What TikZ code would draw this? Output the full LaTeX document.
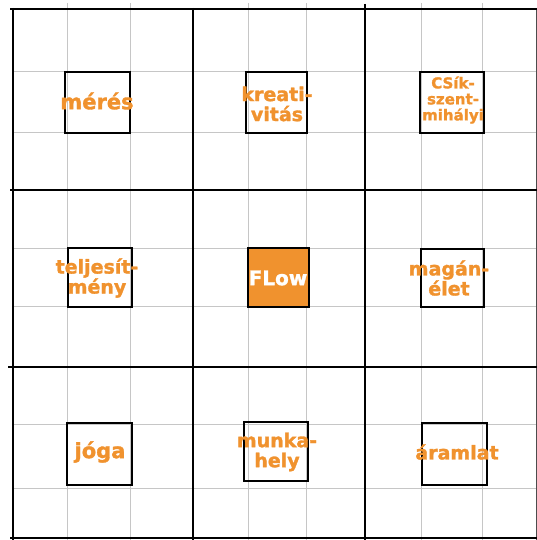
\documentclass[tikz,border=0pt]{standalone}
\usepackage{fontspec}
\setmainfont{DejaVu Sans}[BoldFeatures={FakeBold=1.6}]
\definecolor{floworange}{RGB}{240,146,46}

\begin{document}
\begin{tikzpicture}[x=1pt,y=-1pt,
    thinline/.style={gray!45,line width=1pt},
    thickline/.style={black,line width=2.8pt},
    cellbox/.style={draw=black,line width=1.8pt},
    word/.style={text=floworange,font=\bfseries\fontsize{19}{20}\selectfont,align=center,inner sep=0pt}]

    \useasboundingbox (0,0) rectangle (537,540);

    % Thin grid lines
    \draw[thinline] (67,3) -- (67,540);
    \draw[thinline] (130,3) -- (130,540);
    \draw[thinline] (248,3) -- (248,540);
    \draw[thinline] (306,3) -- (306,540);
    \draw[thinline] (421,3) -- (421,540);
    \draw[thinline] (482,3) -- (482,540);
    \draw[thinline] (12,72) -- (537,72);
    \draw[thinline] (12,133) -- (537,133);
    \draw[thinline] (12,248) -- (537,248);
    \draw[thinline] (12,306) -- (537,306);
    \draw[thinline] (12,424) -- (537,424);
    \draw[thinline] (12,488) -- (537,488);
    \draw[black!70,line width=1pt] (536,9) -- (536,540);

    % Thick block lines
    \draw[thickline] (13,8) -- (13,540);
    \draw[thickline] (193,8) -- (193,540);
    \draw[thickline] (365,4) -- (365,540);
    \draw[thickline] (10,9) -- (537,9);
    \draw[thickline] (10,190) -- (537,190);
    \draw[thickline] (8,367) -- (537,367);
    \draw[thickline] (10,538) -- (537,538);

    % Boxes round the centre cells
    \draw[cellbox] (65,72) rectangle (130,133);
    \draw[cellbox] (246,72) rectangle (307,133);
    \draw[cellbox] (420,72) rectangle (484,133);
    \draw[cellbox] (68,248) rectangle (132,307);
    \draw[cellbox,fill=floworange] (248,248) rectangle (309,307);
    \draw[cellbox] (421,249) rectangle (484,307);
    \draw[cellbox] (67,423) rectangle (132,485);
    \draw[cellbox] (244,422) rectangle (308,481);
    \draw[cellbox] (422,423) rectangle (487,485);

    % Words
    \node[word,font=\bfseries\fontsize{21}{22}\selectfont] (meres) at (97,101) {mérés};
    \node[word] (kreativitas) at (277,104) {kreati-\\vitás};
    \node[word,font=\bfseries\fontsize{15}{16}\selectfont] (csikszentmihalyi) at (453,100) {CSík-\\szent-\\mihályi};
    \node[word] (teljesitmeny) at (97,278) {teljesít-\\mény};
    \node[word,text=white,font=\bfseries\fontsize{20}{21}\selectfont] (flow) at (278,278) {FLow};
    \node[word] (maganelet) at (449,278) {magán-\\élet};
    \node[word,font=\bfseries\fontsize{21}{22}\selectfont] (joga) at (100,452) {jóga};
    \node[word] (munkahely) at (277,452) {munka-\\hely};
    \node[word] (aramlat) at (457,452) {áramlat};

\end{tikzpicture}
\end{document}
